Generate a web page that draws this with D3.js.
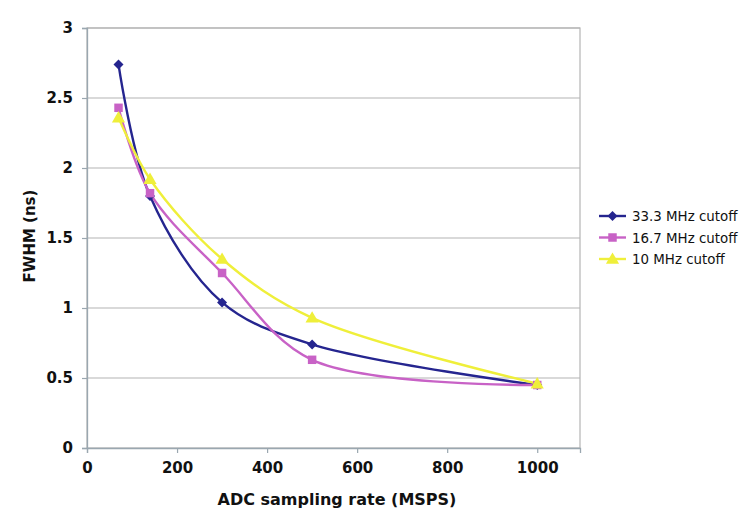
<!DOCTYPE html>
<html><head><meta charset="utf-8">
<script src="https://cdn.jsdelivr.net/npm/d3@7"></script>
<style>body{margin:0;background:#fff}</style>
</head><body><svg id="c" width="750" height="521"></svg>
<script>
const rates = [70, 140, 300, 500, 1000];
const s33 = [2.74, 1.80, 1.04, 0.74, 0.45];
const s16 = [2.43, 1.82, 1.25, 0.63, 0.45];
const s10 = [2.36, 1.92, 1.35, 0.93, 0.46];
const seriesNames = ["33.3 MHz cutoff", "16.7 MHz cutoff", "10 MHz cutoff"];
const xTicks = [0, 200, 400, 600, 800, 1000];
const yTicks = [0, 0.5, 1, 1.5, 2, 2.5, 3];

const series = [
  {name: seriesNames[0], vals: s33, color: "#25258f", shape: "diamond"},
  {name: seriesNames[1], vals: s16, color: "#c862c6", shape: "square"},
  {name: seriesNames[2], vals: s10, color: "#efef3a", shape: "triangle"}
];

const svg = d3.select("#c");
const L = 87, R = 580, T = 28, B = 448;
const x = d3.scaleLinear().domain([0, 1095]).range([L, R]);
const y = d3.scaleLinear().domain([0, 3]).range([B, T]);
const font = "'DejaVu Sans', Verdana, sans-serif";

svg.append("rect").attr("x", L).attr("y", T).attr("width", R - L).attr("height", B - T)
  .attr("fill", "#fff").attr("stroke", "#b4b4b4").attr("stroke-width", 1.2);

svg.append("g").selectAll("line").data(yTicks.filter(d => d > 0)).join("line")
  .attr("x1", L).attr("x2", R).attr("y1", d => y(d)).attr("y2", d => y(d))
  .attr("stroke", "#b4b4b4").attr("stroke-width", 1.2);

const fmtY = d => String(d);
const yAxis = svg.append("g").attr("transform", `translate(${L},0)`)
  .call(d3.axisLeft(y).tickValues(yTicks).tickFormat(fmtY).tickSize(5).tickPadding(9));
const xAxis = svg.append("g").attr("transform", `translate(0,${B})`)
  .call(d3.axisBottom(x).tickValues(xTicks).tickFormat(d3.format("d")).tickSize(5).tickPadding(9));
[xAxis, yAxis].forEach(a => {
  a.attr("font-family", font).attr("font-size", 15);
  a.select(".domain").attr("stroke", "#9aa7b0").attr("stroke-width", 1.3);
  a.selectAll(".tick line").attr("stroke", "#9aa7b0").attr("stroke-width", 1.2);
  a.selectAll("text").style("font-family", font).style("font-weight", "bold")
    .style("font-size", "15px").attr("fill", "#111");
});

const line = d3.line().x((d, i) => x(rates[i])).y(d => y(d)).curve(d3.curveCatmullRom.alpha(0.5));
series.forEach(s => {
  svg.append("path").datum(s.vals).attr("d", line).attr("fill", "none")
    .attr("stroke", s.color).attr("stroke-width", 2.4);
});

function sym(shape) {
  if (shape === "diamond") return d3.symbol().type(d3.symbolSquare).size(50)();
  if (shape === "square") return d3.symbol().type(d3.symbolSquare).size(72)();
  return d3.symbol().type(d3.symbolTriangle).size(75)();
}
function markTf(shape, px, py) {
  if (shape === "diamond") return `translate(${px},${py}) rotate(45)`;
  if (shape === "triangle") return `translate(${px},${py + 1})`;
  return `translate(${px},${py})`;
}
series.forEach(s => {
  svg.append("g").selectAll("path").data(s.vals).join("path")
    .attr("d", sym(s.shape))
    .attr("transform", (d, i) => markTf(s.shape, x(rates[i]), y(d)))
    .attr("fill", s.color);
});

svg.append("text").attr("x", 337).attr("y", 505).attr("text-anchor", "middle")
  .style("font-family", font).style("font-weight", "bold").style("font-size", "16px").attr("fill", "#111")
  .text("ADC sampling rate (MSPS)");
svg.append("text").attr("transform", `translate(35,${236}) rotate(-90)`).attr("text-anchor", "middle")
  .style("font-family", font).style("font-weight", "bold").style("font-size", "15px").attr("fill", "#111")
  .text("FWHM (ns)");

const lg = svg.append("g").attr("transform", "translate(599,216)");
series.forEach((s, i) => {
  const g = lg.append("g").attr("transform", `translate(0,${i * 21.5})`);
  g.append("line").attr("x1", 0).attr("x2", 27).attr("stroke", s.color).attr("stroke-width", 2.4);
  g.append("path").attr("d", sym(s.shape)).attr("transform", markTf(s.shape, 13.5, 0)).attr("fill", s.color);
  g.append("text").attr("x", 33).attr("y", 5).style("font-family", font).style("font-size", "13.4px")
    .attr("fill", "#111").text(s.name);
});
</script></body></html>
